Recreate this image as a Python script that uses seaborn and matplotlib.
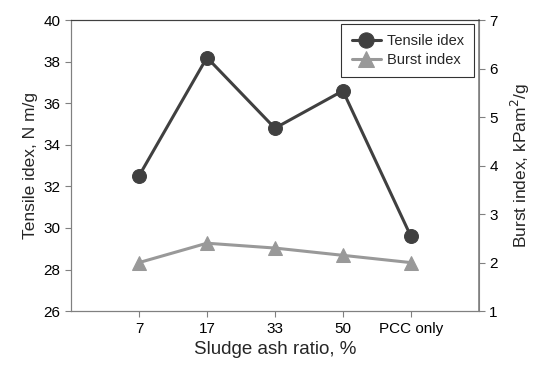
import seaborn as sns
import matplotlib.pyplot as plt
import pandas as pd

# values
categories = ["7", "17", "33", "50", "PCC only"]
tensile = [32.5, 38.2, 34.8, 36.6, 29.6]
burst = [2.0, 2.4, 2.3, 2.15, 2.0]

df = pd.DataFrame({"pos": range(1, len(categories) + 1),
                   "tensile": tensile, "burst": burst})

sns.set_style("ticks")
plt.rcParams["font.family"] = ["Liberation Sans", "DejaVu Sans"]

fig = plt.figure(figsize=(5.46, 3.66), dpi=100)
ax = fig.add_axes([0.130, 0.150, 0.747, 0.795])
ax2 = ax.twinx()

dark = "#404040"
light = "#999999"

sns.lineplot(data=df, x="pos", y="tensile", ax=ax, color=dark, linewidth=2.2,
             marker="o", markersize=10, markeredgecolor=dark, label="Tensile idex",
             legend=False)
sns.lineplot(data=df, x="pos", y="burst", ax=ax2, color=light, linewidth=2.2,
             marker="^", markersize=10, markeredgecolor=light, label="Burst index",
             legend=False)

ax.set_xlim(0, len(categories) + 1)
ax.set_xticks(df["pos"])
ax.set_xticklabels(categories)
ax.set_ylim(26, 40)
ax.set_yticks(range(26, 41, 2))
ax2.set_ylim(1, 7)
ax2.set_yticks(range(1, 8))

for a in (ax, ax2):
    for s in a.spines.values():
        s.set_color("#808080")
    a.tick_params(colors="black", labelsize=11, length=4, width=0.8)
    a.tick_params(axis="both", color="#808080")
ax.spines["top"].set_color(dark)
ax2.spines["top"].set_color(dark)
ax.spines["bottom"].set_color("#606060")
ax2.spines["right"].set_linewidth(1.2)

ax.set_xlabel("Sludge ash ratio, %", fontsize=13.5)
ax.set_ylabel("Tensile idex, N m/g", fontsize=12.5)
ax2.set_ylabel("Burst index, kPam$^2$/g", fontsize=12.5, labelpad=8)

h1, l1 = ax.get_legend_handles_labels()
h2, l2 = ax2.get_legend_handles_labels()
leg = ax2.legend(h1 + h2, l1 + l2, loc="upper right", bbox_to_anchor=(0.988, 0.986),
                 borderaxespad=0, frameon=True, fancybox=False, fontsize=10.5,
                 handlelength=2.0, handletextpad=0.4, borderpad=0.7,
                 labelspacing=0.3, markerscale=1.1)
leg.get_frame().set_edgecolor("black")
leg.get_frame().set_linewidth(0.8)

fig.savefig("out.png", dpi=100)
